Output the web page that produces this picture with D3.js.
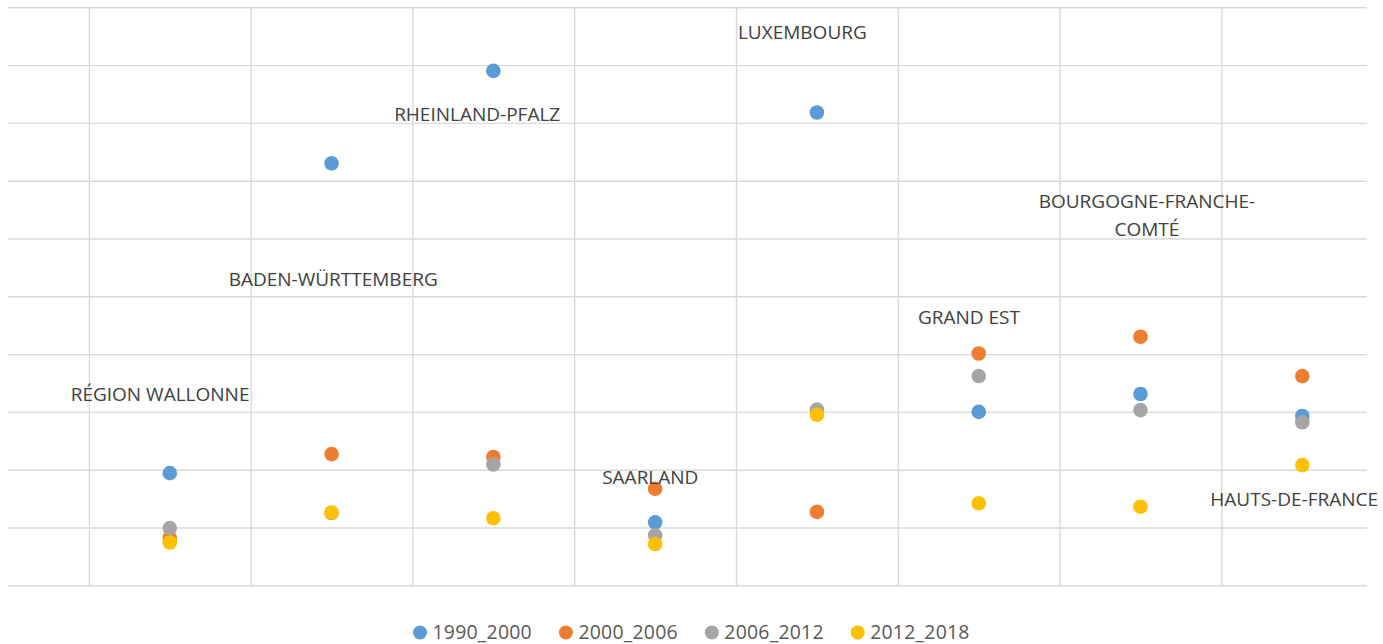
<!DOCTYPE html>
<html>
<head>
<meta charset="utf-8">
<script src="https://cdn.jsdelivr.net/npm/d3@7"></script>
<style>
  html, body { margin: 0; padding: 0; background: #ffffff; }
  svg { display: block; }
</style>
</head>
<body>
<svg id="chart" width="1383" height="644"></svg>
<script>
// ---- data ----
const categories = ["RÉGION WALLONNE", "BADEN-WÜRTTEMBERG", "RHEINLAND-PFALZ", "SAARLAND",
                    "LUXEMBOURG", "GRAND EST", "BOURGOGNE-FRANCHE-COMTÉ", "HAUTS-DE-FRANCE"];
const seriesNames = ["1990_2000", "2000_2006", "2006_2012", "2012_2018"];
const s1990_2000 = [1.94, 7.30, 8.90, 1.09, 8.18, 3.00, 3.31, 2.93];
const s2000_2006 = [0.82, 2.27, 2.22, 1.67, 1.27, 4.01, 4.30, 3.62];
const s2006_2012 = [0.99, 1.25, 2.09, 0.865, 3.04, 3.62, 3.03, 2.82];
const s2012_2018 = [0.74, 1.26, 1.16, 0.715, 2.95, 1.42, 1.36, 2.08];
const seriesValues = [s1990_2000, s2000_2006, s2006_2012, s2012_2018];
const colors = ["#5B9BD5", "#ED7D31", "#A5A5A5", "#FFC000"];
// data labels (category label lines, anchored in data units)
const labelLines = [["RÉGION WALLONNE"], ["BADEN-WÜRTTEMBERG"], ["RHEINLAND-PFALZ"], ["SAARLAND"],
                    ["LUXEMBOURG"], ["GRAND EST"], ["BOURGOGNE-FRANCHE-", "COMTÉ"], ["HAUTS-DE-FRANCE"]];
const labelX = [0.94, 2.01, 2.90, 3.97, 4.91, 5.94, 7.04, 7.95];
const labelY = [3.18, 5.18, 8.04, 1.75, 9.45, 4.52, 6.52, 1.38];
const yTicks = [0, 1, 2, 3, 4, 5, 6, 7, 8, 9, 10];
const xGrid = [0.5, 1.5, 2.5, 3.5, 4.5, 5.5, 6.5, 7.5];

// ---- layout ----
const svg = d3.select("#chart");
const pLeft = 8, pRight = 1367, pTop = 7.3, pBottom = 585.3;
const x = d3.scaleLinear().domain([0, 8.4]).range([pLeft, pRight]);
const y = d3.scaleLinear().domain([0, 10]).range([pBottom, pTop]);
const gridColor = "#d9d9d9";

// horizontal gridlines
const gy = svg.append("g").attr("transform", `translate(${pLeft},0)`)
  .call(d3.axisLeft(y).tickValues(yTicks).tickSize(-(pRight - pLeft)).tickFormat(""));
gy.select(".domain").remove();
gy.selectAll(".tick line").attr("stroke", gridColor).attr("stroke-width", 1.4);

// vertical gridlines
const gx = svg.append("g").attr("transform", `translate(0,${pBottom})`)
  .call(d3.axisBottom(x).tickValues(xGrid).tickSize(-(pBottom - pTop)).tickFormat(""));
gx.select(".domain").remove();
gx.selectAll(".tick line").attr("stroke", gridColor).attr("stroke-width", 1.4);

// points
seriesValues.forEach((vals, si) => {
  svg.append("g").selectAll("circle")
    .data(vals)
    .join("circle")
    .attr("cx", (d, i) => x(i + 1))
    .attr("cy", d => y(d))
    .attr("r", 7.3)
    .attr("fill", colors[si]);
});

// data labels
const lg = svg.append("g")
  .attr("font-family", "'Open Sans', sans-serif")
  .attr("font-size", 19)
  .attr("fill", "#404040")
  .attr("text-anchor", "middle");
labelLines.forEach((lines, i) => {
  const t = lg.append("text")
    .attr("x", x(labelX[i]))
    .attr("y", y(labelY[i]));
  lines.forEach((ln, k) => {
    t.append("tspan").attr("x", x(labelX[i])).attr("dy", k === 0 ? 0 : 27.4).text(ln);
  });
});

// legend
const legendX0 = 420, legendStep = 145.9, legendY = 632.5;
const leg = svg.append("g");
seriesNames.forEach((name, i) => {
  const g = leg.append("g").attr("transform", `translate(${legendX0 + i * legendStep},${legendY})`);
  g.append("circle").attr("r", 7).attr("fill", colors[i]);
  g.append("text").attr("x", 12.5).attr("y", 6.7)
    .attr("font-family", "'Open Sans', sans-serif")
    .attr("font-size", 19.4)
    .attr("letter-spacing", 0.25)
    .attr("fill", "#595959")
    .text(name);
});
</script>
</body>
</html>
